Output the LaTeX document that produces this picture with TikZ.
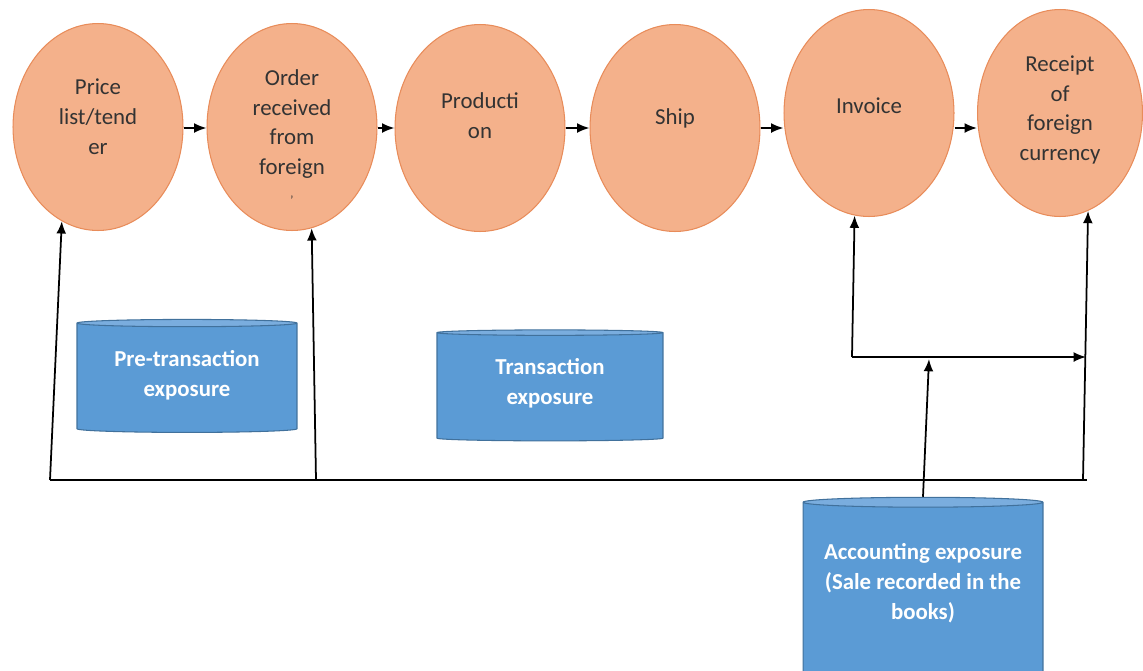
\documentclass[tikz,border=0pt]{standalone}
\usepackage{fontspec}
\setmainfont{Carlito}
\usetikzlibrary{shapes.geometric}
\usetikzlibrary{arrows.meta}

\definecolor{ovalfill}{RGB}{244,177,139}
\definecolor{ovaldraw}{RGB}{232,140,90}
\definecolor{cylbody}{RGB}{91,155,213}
\definecolor{cyltop}{RGB}{122,173,222}
\definecolor{cyldraw}{RGB}{65,113,156}

\tikzset{
  oval/.style={ellipse, fill=ovalfill, draw=ovaldraw, line width=0.6pt, minimum width=3.4cm, minimum height=4.14cm, inner sep=0pt},
  ovaltext/.style={align=center, text=black!80, font=\fontsize{13}{17}\selectfont},
  expcyl/.style={cylinder, shape border rotate=90, aspect=0.05, draw=cyldraw, line width=0.6pt, cylinder uses custom fill, cylinder body fill=cylbody, cylinder end fill=cyltop, text=white, align=center, inner sep=0pt, font=\bfseries\fontsize{13}{17}\selectfont},
  link/.style={line width=1pt, -{Latex[length=7pt,width=5.6pt]}},
}

\begin{document}
\begin{tikzpicture}[x=0.02cm, y=-0.02cm]
        \useasboundingbox (0,0) rectangle (1143,670);

        \node[oval] (p1) at (98,127) {};
        \node[oval] (p2) at (292,127) {};
        \node[oval] (p3) at (480,128) {};
        \node[oval] (p4) at (675,128) {};
        \node[oval] (p5) at (869,113) {};
        \node[oval, minimum width=3.3cm] (p6) at (1060,113) {};

        \node[ovaltext] (t1) at (98,117) {Price\\list/tend\\er};
        \node[ovaltext] (t2) at (292,137) {Order\\received\\from\\foreign\\{\scriptsize'}};
        \node[ovaltext] (t3) at (480,116) {Producti\\on};
        \node[ovaltext] (t4) at (675,118) {Ship};
        \node[ovaltext] (t5) at (869,106) {Invoice};
        \node[ovaltext] (t6) at (1060,110) {Receipt\\of\\foreign\\currency};

        \foreach \a/\b in {p1/p2,p2/p3,p3/p4,p4/p5,p5/p6}
          \draw[link] (\a.east |- 0,128) -- (\b.west |- 0,128);

        \node[expcyl, minimum width=4.4cm, minimum height=2.26cm] (c1) at (187,378) {Pre-transaction\\exposure\\[-12pt]\mbox{}};
        \node[expcyl, minimum width=4.52cm, minimum height=2.22cm] (c2) at (550,387) {Transaction\\exposure\\[-11pt]\mbox{}};
        \node[expcyl, minimum width=4.8cm, minimum height=3.6cm] (c3) at (923,590) {Accounting exposure\\(Sale recorded in the\\books)\\[-7pt]\mbox{}};

        % bus line under the chain
        \coordinate (b1) at (50,480);
        \coordinate (b2) at (316,480);
        \coordinate (b3) at (1083,480);
        \draw[line width=1pt] (b1) -- ([xshift=0.08cm]b3);
        \draw[link] (b1) -- (p1.-111);
        \draw[link] (b2) -- (p2.-79);
        \draw[link] (b3) -- (p6.-74);

        \coordinate (j1) at (852,357);
        \coordinate (j2) at (1086,357);
        \coordinate (j3) at (929,359);
        \draw[link] (j1) -- (p5.-98);
        \draw[link] (j1) -- (j2);
        \draw[link] (c3.north) -- (j3);

\end{tikzpicture}
\end{document}
